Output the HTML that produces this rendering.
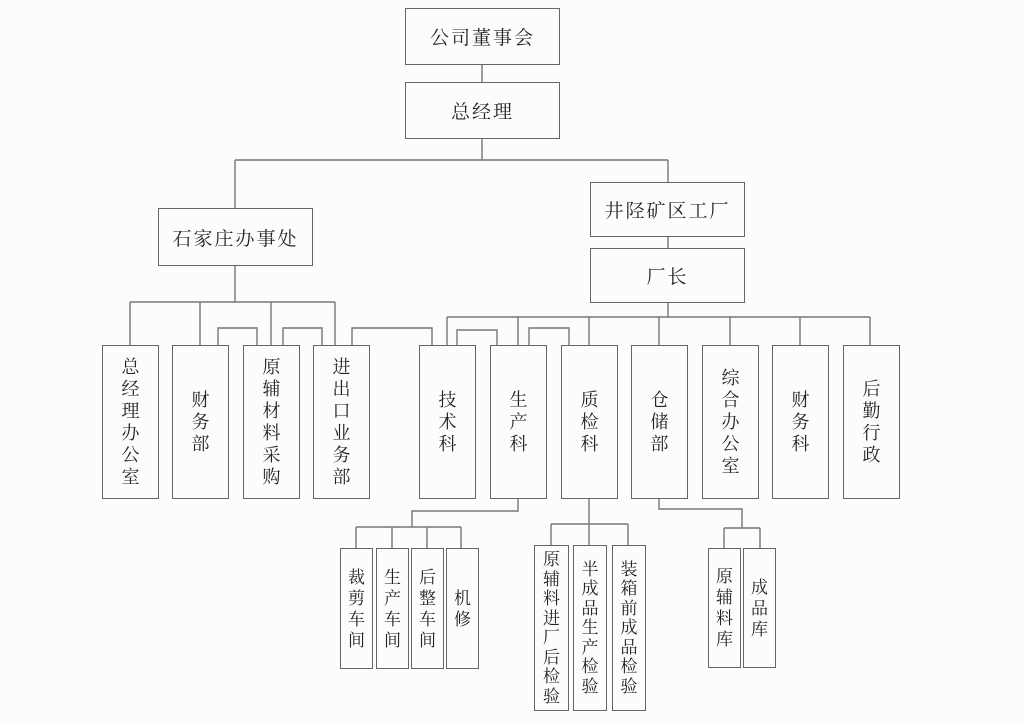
<!DOCTYPE html>
<html><head><meta charset="utf-8"><style>
body{margin:0;width:1024px;height:724px;background:#fcfcfc;position:relative;overflow:hidden;font-family:"Liberation Serif","Noto Serif CJK SC",serif;color:#222}
.b{position:absolute;border:1.3px solid #666;box-sizing:border-box;display:flex;align-items:center;justify-content:center;background:#fcfcfc}
.h{font-size:19px;letter-spacing:2px}
.v{flex-direction:column;font-size:18px;line-height:22px;text-align:center}
.s{font-size:17px;line-height:21px}
.t{line-height:19.5px}
svg{position:absolute;left:0;top:0}
</style></head><body>
<svg width="1024" height="724"><g stroke="#777" stroke-width="1.4" fill="none">
<path d="M482 64V82M482 138V160M235 160H668M235 160V208M668 160V182M668 236V248"/>
<path d="M235 265V302M130 302H335M130 302V345M200 302V345M271 302V345M335 302V345"/>
<path d="M218 345V328H257V345M283 345V328H322V345M352 345V328H432V345"/>
<path d="M668 302V317M447 317H870M447 317V345M518 317V345M589 317V345M659 317V345M730 317V345M800 317V345M870 317V345"/>
<path d="M457 345V330H497V345M529 345V328H569V345"/>
<path d="M518 498V511H412V527M356 527H461M356 527V548M392 527V548M427 527V548M461 527V548"/>
<path d="M589 498V545M551 524H628M551 524V545M628 524V545"/>
<path d="M659 498V509H742V528M724 528H760M724 528V548M760 528V548"/>
</g></svg>
<div class="b h" style="left:405px;top:8px;width:155px;height:57px">公司董事会</div>
<div class="b h" style="left:405px;top:82px;width:155px;height:57px">总经理</div>
<div class="b h" style="left:158px;top:208px;width:155px;height:58px">石家庄办事处</div>
<div class="b h" style="left:590px;top:182px;width:155px;height:55px">井陉矿区工厂</div>
<div class="b h" style="left:590px;top:248px;width:155px;height:55px">厂长</div>

<div class="b v" style="left:102px;top:345px;width:57px;height:154px">总<br>经<br>理<br>办<br>公<br>室</div>
<div class="b v" style="left:172px;top:345px;width:57px;height:154px">财<br>务<br>部</div>
<div class="b v" style="left:243px;top:345px;width:57px;height:154px">原<br>辅<br>材<br>料<br>采<br>购</div>
<div class="b v" style="left:313px;top:345px;width:57px;height:154px">进<br>出<br>口<br>业<br>务<br>部</div>
<div class="b v" style="left:419px;top:345px;width:57px;height:154px">技<br>术<br>科</div>
<div class="b v" style="left:490px;top:345px;width:57px;height:154px">生<br>产<br>科</div>
<div class="b v" style="left:561px;top:345px;width:57px;height:154px">质<br>检<br>科</div>
<div class="b v" style="left:631px;top:345px;width:57px;height:154px">仓<br>储<br>部</div>
<div class="b v" style="left:702px;top:345px;width:57px;height:154px">综<br>合<br>办<br>公<br>室</div>
<div class="b v" style="left:772px;top:345px;width:57px;height:154px">财<br>务<br>科</div>
<div class="b v" style="left:843px;top:345px;width:57px;height:154px">后<br>勤<br>行<br>政</div>

<div class="b v s" style="left:340px;top:548px;width:33px;height:121px">裁<br>剪<br>车<br>间</div>
<div class="b v s" style="left:376px;top:548px;width:33px;height:121px">生<br>产<br>车<br>间</div>
<div class="b v s" style="left:411px;top:548px;width:33px;height:121px">后<br>整<br>车<br>间</div>
<div class="b v s" style="left:446px;top:548px;width:33px;height:121px">机<br>修</div>
<div class="b v s t" style="left:534px;top:545px;width:35px;height:166px">原<br>辅<br>料<br>进<br>厂<br>后<br>检<br>验</div>
<div class="b v s t" style="left:573px;top:545px;width:34px;height:166px">半<br>成<br>品<br>生<br>产<br>检<br>验</div>
<div class="b v s t" style="left:612px;top:545px;width:34px;height:166px">装<br>箱<br>前<br>成<br>品<br>检<br>验</div>
<div class="b v s" style="left:708px;top:548px;width:33px;height:120px">原<br>辅<br>料<br>库</div>
<div class="b v s" style="left:743px;top:548px;width:33px;height:120px">成<br>品<br>库</div>
</body></html>
